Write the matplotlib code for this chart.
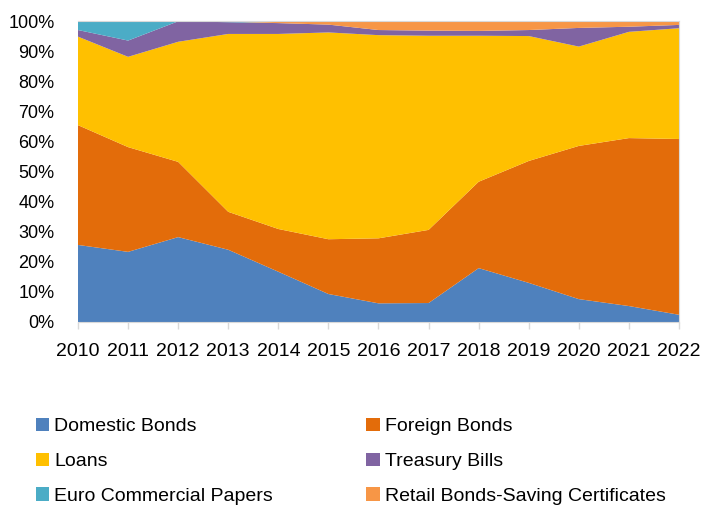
import numpy as np
import matplotlib

matplotlib.use("Agg")
import matplotlib.pyplot as plt
from matplotlib.patches import Patch
from matplotlib.ticker import PercentFormatter

plt.rcParams["font.family"] = ["Liberation Sans", "DejaVu Sans"]

years = list(range(2010, 2023))

# share of debt stock by instrument, % of total
domestic_bonds = [25.6, 23.3, 28.2, 24.0, 16.7, 9.3, 6.2, 6.3, 17.9, 13.0, 7.6, 5.3, 2.4]
foreign_bonds = [39.8, 34.8, 25.0, 12.6, 14.2, 18.2, 21.6, 24.3, 28.7, 40.5, 50.9, 55.8, 58.4]
loans = [29.4, 30.0, 39.9, 59.1, 64.8, 68.7, 67.5, 64.5, 48.5, 41.5, 33.0, 35.3, 36.8]
treasury_bills = [2.2, 5.4, 6.8, 3.9, 3.6, 2.6, 1.7, 1.7, 1.6, 2.0, 6.2, 1.7, 1.1]
euro_cp = [2.8, 6.4, 0.0, 0.2, 0.0, 0.0, 0.0, 0.0, 0.0, 0.0, 0.0, 0.0, 0.0]
retail_bonds = [0.2, 0.1, 0.1, 0.2, 0.7, 1.2, 3.0, 3.2, 3.3, 3.0, 2.3, 1.9, 1.3]

series_labels = [
    "Domestic Bonds",
    "Foreign Bonds",
    "Loans",
    "Treasury Bills",
    "Euro Commercial Papers",
    "Retail Bonds-Saving Certificates",
]
colors = ["#4F81BD", "#E36C0A", "#FFC000", "#8064A2", "#4BACC6", "#F79646"]

fig = plt.figure(figsize=(7.03, 5.05), dpi=100)
ax = fig.add_axes([78 / 703, 183 / 505, 601 / 703, 301 / 505])

ax.stackplot(
    years,
    domestic_bonds,
    foreign_bonds,
    loans,
    treasury_bills,
    euro_cp,
    retail_bonds,
    colors=colors,
    linewidth=0,
)

ax.set_xlim(years[0], years[-1])
ax.set_ylim(0, 100)
ax.set_xticks(years)
ax.set_yticks(np.arange(0, 101, 10))
ax.yaxis.set_major_formatter(PercentFormatter(decimals=0))
ax.tick_params(axis="x", length=5, width=1, color="#d9d9d9", pad=10, labelsize=14)
ax.tick_params(axis="y", length=0, pad=17, labelsize=13)

for side in ("top", "right", "bottom"):
    ax.spines[side].set_color("#d9d9d9")
ax.spines["left"].set_visible(False)

# legend reads row by row: reorder so the column-major fill gives that
order = [0, 2, 4, 1, 3, 5]
handles = [Patch(facecolor=colors[i], edgecolor="none") for i in order]
labels = [series_labels[i] for i in order]
fig.legend(
    handles,
    labels,
    ncol=2,
    loc="upper left",
    bbox_to_anchor=(28 / 703, 1 - 410 / 505),
    frameon=False,
    fontsize=14,
    handlelength=0.7,
    handleheight=0.7,
    handletextpad=0.25,
    labelspacing=0.88,
    columnspacing=4.8,
    borderaxespad=0,
)

fig.savefig("out.png", dpi=100)
plt.close(fig)
